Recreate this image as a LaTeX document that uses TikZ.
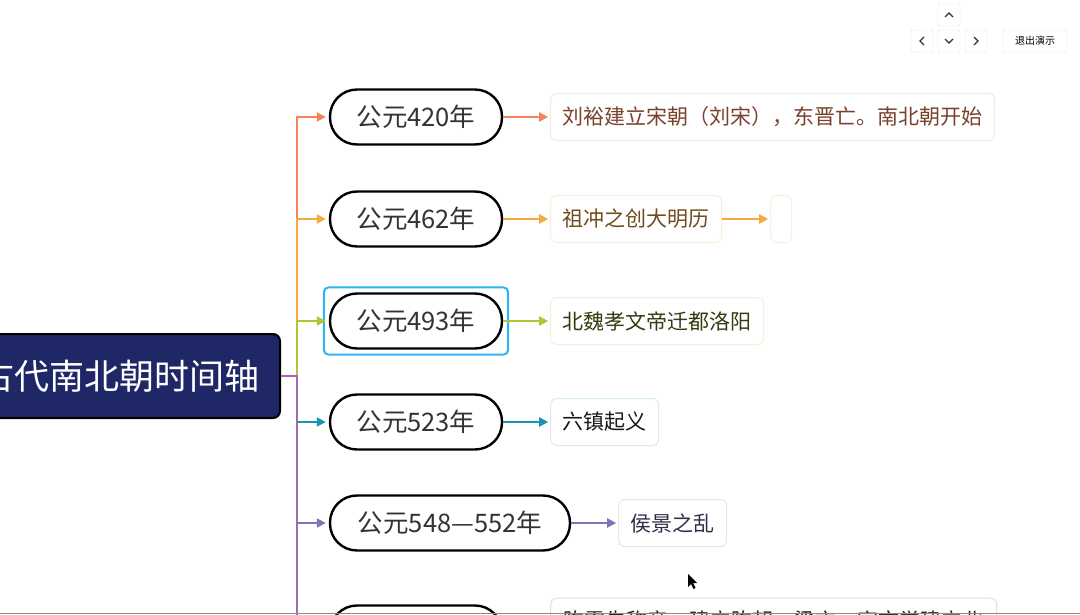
\documentclass[tikz,border=0pt]{standalone}
\usepackage{fontspec}
\setmainfont{Noto Sans CJK SC}
\usetikzlibrary{positioning, arrows.meta, fit}
\definecolor{rootblue}{HTML}{1F2767}
\definecolor{selblue}{HTML}{2CB5EE}
\definecolor{cA}{HTML}{F4825A}
\definecolor{cB}{HTML}{F6A941}
\definecolor{cC}{HTML}{B4C334}
\definecolor{cD}{HTML}{1A95B0}
\definecolor{cE}{HTML}{7D74BA}
\definecolor{cF}{HTML}{A466AE}

\begin{document}
\begin{tikzpicture}[x=1pt, y=-1pt, every node/.style={inner sep=0pt},
  root/.style={draw=black, line width=2pt, fill=rootblue, rounded corners=7pt,
    text=white, font=\fontsize{35}{40}\selectfont, text width=300pt, align=right,
    inner xsep=20pt, minimum height=84pt},
  year/.style={draw=black, line width=2.4pt, fill=white, rounded corners=27pt,
    minimum width=172pt, minimum height=55pt, text=black!80,
    font=\fontsize{25.5}{30}\selectfont},
  note/.style={draw=#1, line width=1pt, fill=white, rounded corners=6pt,
    minimum height=47pt, inner xsep=12pt, font=\fontsize{21}{26}\selectfont},
  branch/.style={draw=#1, line width=2.2pt, shorten >=3pt,
    -{Triangle[length=9pt,width=9pt]}},
  btn/.style={draw=black!12, fill=white, rounded corners=2pt, minimum size=22pt},
  chev/.style={line width=1.3pt, black!80}]
\useasboundingbox (0,0) rectangle (1080,615);

% root and years
\node[root] (root) at (110,376) {古代南北朝时间轴};
\coordinate (sp) at (297,376);
\node[year] (y420) at (416,117) {公元420年};
\node[year] (y462) at (416,219) {公元462年};
\node[year] (y493) at (416,321) {公元493年};
\node[year] (y523) at (416,422) {公元523年};
\node[year, minimum width=240pt] (y548) at (450,523) {公元548—552年};
\node[year] (y557) at (416,633) {};
\node[draw=selblue, line width=2pt, rounded corners=5pt, inner sep=5pt, fit=(y493)] (sel) {};

% notes
\node[note=cA!20, text=cA!50!black, right=47pt of y420] (n420) {刘裕建立宋朝（刘宋），东晋亡。南北朝开始};
\node[note=cB!20, text=cB!45!black, right=47pt of y462] (n462) {祖冲之创大明历};
\node[note=cB!20, minimum width=21pt, inner xsep=0pt, right=48pt of n462] (e462) {};
\node[note=cC!20, text=cC!30!black, right=47pt of y493] (n493) {北魏孝文帝迁都洛阳};
\node[note=cD!18, text=black!90, right=47pt of y523] (n523) {六镇起义};
\node[note=cE!20, text=cE!40!black, right=47pt of y548] (n548) {侯景之乱};
\node[note=black!12, text=black!85, text width=420pt, align=left, inner xsep=13pt,
  inner ysep=12pt, right=47pt of y557] (n557) {陈霸先称帝，建立陈朝，梁亡。宇文觉建立北\\周};

% branches
\draw[branch=cA] (root.east) -- (sp) |- (y420.west);
\draw[branch=cB] (root.east) -- (sp) |- (y462.west);
\draw[branch=cC] (root.east) -- (sp) |- (y493.west);
\draw[branch=cD] (root.east) -- (sp) |- (y523.west);
\draw[branch=cE] (root.east) -- (sp) |- (y548.west);
\draw[branch=cF] (root.east) -- (sp) |- (y557.west);
\draw[branch=cA, shorten >=2pt] (y420) -- (n420);
\draw[branch=cB, shorten >=2pt] (y462) -- (n462);
\draw[branch=cB, shorten >=2pt] (n462) -- (e462);
\draw[branch=cC, shorten >=2pt] (y493) -- (n493);
\draw[branch=cD, shorten >=2pt] (y523) -- (n523);
\draw[branch=cE, shorten >=2pt] (y548) -- (n548);
\draw[branch=cF, shorten >=2pt] (y557) -- (n557);

% presentation buttons
\node[btn] (up) at (949,15) {};
\node[btn] (prev) at (922,41) {};
\node[btn] (down) at (949,41) {};
\node[btn] (next) at (976,41) {};
\node[btn, minimum width=64pt, font=\fontsize{10}{12}\selectfont] (quit) at (1035,41) {退出演示};
\draw[chev] ([xshift=-4pt,yshift=-2pt]up.center) -- ([yshift=2pt]up.center) -- ([xshift=4pt,yshift=-2pt]up.center);
\draw[chev] ([xshift=-4pt,yshift=2pt]down.center) -- ([yshift=-2pt]down.center) -- ([xshift=4pt,yshift=2pt]down.center);
\draw[chev] ([xshift=2pt,yshift=4pt]prev.center) -- ([xshift=-2pt]prev.center) -- ([xshift=2pt,yshift=-4pt]prev.center);
\draw[chev] ([xshift=-2pt,yshift=4pt]next.center) -- ([xshift=2pt]next.center) -- ([xshift=-2pt,yshift=-4pt]next.center);

% cursor and screen edge
\fill[black] (688,574) -- (688,587) -- (691,584) -- (693.5,589) -- (695.5,588) -- (693,583) -- (697,583) -- cycle;
\draw[black!45, line width=1.5pt] (0,613.5) -- (1080,613.5);
\end{tikzpicture}
\end{document}
